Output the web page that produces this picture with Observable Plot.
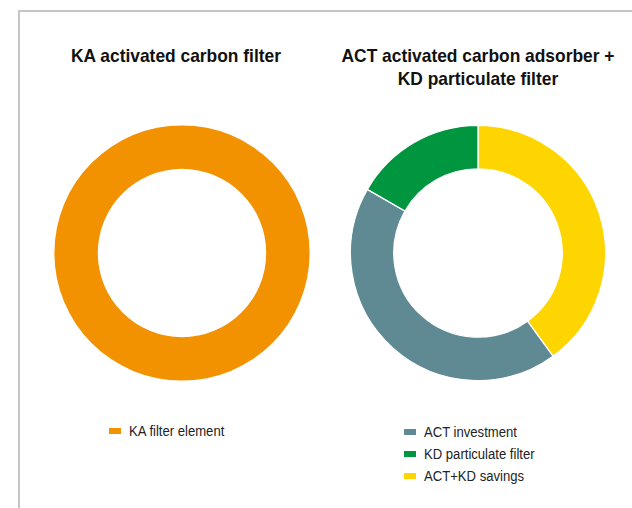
<!DOCTYPE html>
<html>
<head>
<meta charset="utf-8">
<script src="https://cdn.jsdelivr.net/npm/d3@7"></script>
<script src="https://cdn.jsdelivr.net/npm/@observablehq/plot@0.6"></script>
<style>
  html, body { margin: 0; padding: 0; background: #fff; }
  body { width: 632px; height: 508px; overflow: hidden; position: relative;
         font-family: "Liberation Sans", Arial, Helvetica, sans-serif; color: #1a1a1a; }
  #frame { position: absolute; left: 18px; top: 10px; width: 700px; height: 600px;
           border-left: 2px solid #c6c6c6; border-top: 2px solid #c6c6c6; box-sizing: border-box; }
  .title { position: absolute; width: 340px; text-align: center; font-weight: bold;
           font-size: 19px; line-height: 23px; color: #111;
           transform: scaleX(0.915); transform-origin: 50% 0; }
  .donut { position: absolute; }
  .legend { position: absolute; font-size: 14px; color: #222; }
  .legend .row { position: relative; height: 22.3px; line-height: 16px; white-space: nowrap; }
  .legend .sw { position: absolute; left: 0; top: 5px; width: 12px; height: 6px; }
  .legend .lab { position: absolute; left: 20px; top: 0; transform: scaleX(0.935); transform-origin: 0 0; }
</style>
</head>
<body>
<div id="frame"></div>
<script>
// ---- data ----
const chartTitles = ["KA activated carbon filter", "ACT activated carbon adsorber +\nKD particulate filter"];

const leftCategories = ["KA filter element"];
const leftValues = [100];

// legend order
const rightCategories = ["ACT investment", "KD particulate filter", "ACT+KD savings"];
const rightValues = [43.3, 16.7, 40];
// drawing order, clockwise from 12 o'clock
const rightDrawOrder = ["ACT+KD savings", "ACT investment", "KD particulate filter"];

const allCategories = ["KA filter element", "ACT investment", "KD particulate filter", "ACT+KD savings"];
const allColors = ["#f39200", "#5f8a94", "#009640", "#ffd500"];

// ---- geometry (layout only) ----
const SIZE = 270;
const OUTER = 127.6 / (SIZE / 2);   // in x-domain units
const INNER = 84.2 / (SIZE / 2);

function donut(categories, values, order) {
  const rows = categories.map((c, i) => ({category: c, value: values[i]}));
  rows.sort((a, b) => order.indexOf(a.category) - order.indexOf(b.category));
  const ring = (index, scales) => {
    const cx = scales.x(0), cy = scales.y(0);
    const rO = Math.abs(scales.x(OUTER) - scales.x(0));
    const rI = Math.abs(scales.x(INNER) - scales.x(0));
    const arcs = d3.pie().sort(null).value(d => d.value)(rows);
    const g = d3.create("svg:g").attr("transform", `translate(${cx},${cy})`);
    g.selectAll("path").data(arcs).join("path")
      .attr("d", d3.arc().innerRadius(rI).outerRadius(rO))
      .attr("fill", d => scales.color(d.data.category))
      .attr("stroke", rows.length > 1 ? "#fff" : "none")
      .attr("stroke-width", 1.3)
      .attr("stroke-linejoin", "miter");
    return g.node();
  };
  return Plot.plot({
    width: SIZE, height: SIZE, margin: 0,
    style: {background: "transparent", overflow: "visible"},
    x: {domain: [-1, 1], axis: null},
    y: {domain: [-1, 1], axis: null},
    color: {domain: allCategories, range: allColors},
    marks: [ring]
  });
}

function place(el, left, top) {
  el.style.position = "absolute";
  el.style.left = left + "px";
  el.style.top = top + "px";
  document.body.appendChild(el);
  return el;
}

function legend(cats, plot) {
  const color = plot.scale("color");
  const div = document.createElement("div");
  div.className = "legend";
  for (const c of cats) {
    const row = document.createElement("div"); row.className = "row";
    const sw = document.createElement("span"); sw.className = "sw";
    sw.style.background = color.apply(c);
    const lab = document.createElement("span"); lab.className = "lab"; lab.textContent = c;
    row.appendChild(sw); row.appendChild(lab); div.appendChild(row);
  }
  return div;
}

const centers = [181.5, 478];
const titleCenters = [176, 478];
const cy = 252.8;

// titles
chartTitles.forEach((t, i) => {
  const d = document.createElement("div");
  d.className = "title";
  d.innerHTML = t.split("\n").map(s => s.replace(/&/g, "&amp;")).join("<br>");
  place(d, titleCenters[i] - 170, 43.5);
});

// donuts
const leftPlot = donut(leftCategories, leftValues, leftCategories);
leftPlot.classList.add("donut");
place(leftPlot, centers[0] - SIZE / 2, cy - SIZE / 2);

const rightPlot = donut(rightCategories, rightValues, rightDrawOrder);
rightPlot.classList.add("donut");
place(rightPlot, centers[1] - SIZE / 2, cy - SIZE / 2);

// legends
place(legend(leftCategories, leftPlot), 109, 423);
place(legend(rightCategories, rightPlot), 404, 423.5);
</script>
</body>
</html>
